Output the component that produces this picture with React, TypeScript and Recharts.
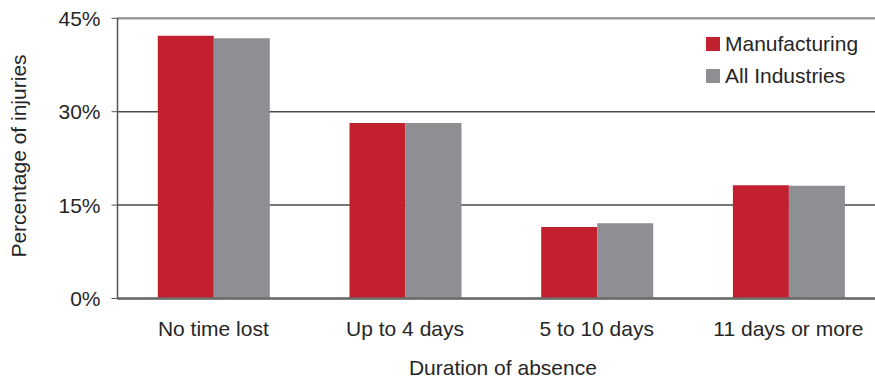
import React from "react";
import { BarChart, Bar, XAxis, YAxis, CartesianGrid, ReferenceLine } from "recharts";

const categories = ["No time lost", "Up to 4 days", "5 to 10 days", "11 days or more"];
const manufacturing = [42.2, 28.2, 11.5, 18.2];
const allIndustries = [41.8, 28.2, 12.1, 18.1];
const yTicks = [0, 15, 30, 45];

const RED = "#C3202F";
const GREY = "#8E8F93";
const TEXT = "#262626";
const FONT = "'Liberation Sans', Arial, Helvetica, sans-serif";
const FS = 21;

const data = categories.map((name, i) => ({
  name,
  manufacturing: manufacturing[i],
  allIndustries: allIndustries[i],
}));

const legendItems = [
  { label: "Manufacturing", color: RED },
  { label: "All Industries", color: GREY },
];

const LegendBox = () => (
  <div style={{ position: "absolute", left: 706, top: 28, fontFamily: FONT, fontSize: FS, color: TEXT }}>
    {legendItems.map((it) => (
      <div key={it.label} style={{ display: "flex", alignItems: "center", height: 32 }}>
        <span style={{ width: 14, height: 14, background: it.color, marginRight: 5, display: "inline-block" }} />
        <span style={{ lineHeight: "24px", whiteSpace: "nowrap" }}>{it.label}</span>
      </div>
    ))}
  </div>
);

const XTitle = (props: any) => {
  const vb = props.viewBox || {};
  return (
    <text
      x={vb.x + vb.width / 2 + 2}
      y={vb.y + 76.5}
      textAnchor="middle"
      fill={TEXT}
      fontSize={FS}
      fontFamily={FONT}
    >
      Duration of absence
    </text>
  );
};

const YTitle = () => (
  <text
    x={25.5}
    y={156}
    transform="rotate(-90, 25.5, 156)"
    textAnchor="middle"
    fill={TEXT}
    fontSize={FS}
    fontFamily={FONT}
  >
    Percentage of injuries
  </text>
);

export default function App() {
  return (
    <div style={{ position: "absolute", left: 0, top: 0, width: 875, height: 379, overflow: "hidden", background: "#fff" }}>
      <BarChart
        width={885}
        height={379}
        data={data}
        margin={{ top: 18.3, right: 0.7, bottom: 20.5, left: 0 }}
        barCategoryGap={40.3}
        barGap={0}
      >
        <CartesianGrid horizontal vertical={false} stroke="#4a4a4a" strokeWidth={1.5} />
        <ReferenceLine y={45} stroke="#9a9a9a" strokeWidth={2.5} />
        <XAxis
          dataKey="name"
          height={60}
          tickLine={false}
          tickSize={0}
          tickMargin={23}
          axisLine={{ stroke: "#6a6a6a", strokeWidth: 2.5 }}
          tick={{ fill: TEXT, fontSize: FS, fontFamily: FONT }}
          label={<XTitle />}
        />
        <YAxis
          width={117.5}
          domain={[0, 45]}
          ticks={yTicks}
          interval={0}
          tickFormatter={(v: number) => `${v}%`}
          tickSize={6}
          tickMargin={11}
          tickLine={{ stroke: "#555" }}
          axisLine={{ stroke: "#555", strokeWidth: 1.5 }}
          tick={{ fill: TEXT, fontSize: FS, fontFamily: FONT }}
          label={<YTitle />}
        />
        <Bar dataKey="manufacturing" name="Manufacturing" fill={RED} isAnimationActive={false} />
        <Bar dataKey="allIndustries" name="All Industries" fill={GREY} isAnimationActive={false} />
      </BarChart>
      <LegendBox />
    </div>
  );
}
